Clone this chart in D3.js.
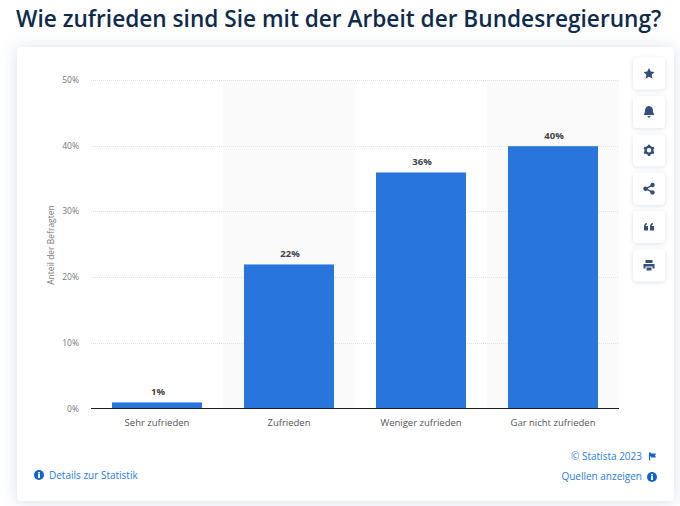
<!DOCTYPE html>
<html><head><meta charset="utf-8">
<script src="https://cdnjs.cloudflare.com/ajax/libs/d3/7.8.5/d3.min.js"></script>
<style>
html,body{margin:0;padding:0;background:#fff;overflow:hidden}
svg{display:block}
text{font-family:"Open Sans","Noto Sans",sans-serif}
</style></head><body><svg id="c" width="680" height="506"></svg>
<script>
const titleText = "Wie zufrieden sind Sie mit der Arbeit der Bundesregierung?";
const categories = ["Sehr zufrieden","Zufrieden","Weniger zufrieden","Gar nicht zufrieden"];
const values = [1,22,36,40];
const yTicks = [0,10,20,30,40,50];
const yLabel = "Anteil der Befragten";
const toolGlyphs = ["star","bell","gear","share","quote","print"];

const svg = d3.select("#c");
const defs = svg.append("defs");
const f = defs.append("filter").attr("id","sh").attr("x","-10%").attr("y","-10%").attr("width","120%").attr("height","120%");
f.append("feDropShadow").attr("dx",0).attr("dy",1).attr("stdDeviation",8).attr("flood-color","#7f93b8").attr("flood-opacity",0.3);
const f2 = defs.append("filter").attr("id","sh2").attr("x","-30%").attr("y","-30%").attr("width","160%").attr("height","160%");
f2.append("feDropShadow").attr("dx",0).attr("dy",1).attr("stdDeviation",2).attr("flood-color","#8a9ab5").attr("flood-opacity",0.3);

svg.append("text").attr("x",16).attr("y",27).attr("font-size",22.65).attr("font-weight",600).attr("fill","#0f2a4d").text(titleText);

svg.append("rect").attr("x",17).attr("y",47).attr("width",657).attr("height",454).attr("rx",4).attr("fill","#fff").attr("filter","url(#sh)");

const x = d3.scaleBand().domain(categories).range([91,619]).padding(0);
const y = d3.scaleLinear().domain([0,50]).range([408.5,80]);

const bandIdx = categories.filter((d,i)=>i%2===1);
svg.selectAll("rect.band").data(bandIdx).join("rect").attr("class","band")
  .attr("x",d=>x(d)).attr("y",y(50)).attr("width",x.bandwidth()).attr("height",y(0)-y(50)).attr("fill","#fafafa");

const g = svg.append("g");
g.selectAll("line.grid").data(yTicks.filter(d=>d>0)).join("line").attr("class","grid")
  .attr("x1",91).attr("x2",619).attr("y1",d=>Math.round(y(d))+.5).attr("y2",d=>Math.round(y(d))+.5)
  .attr("stroke","#e2e2e2").attr("stroke-dasharray","1 1");

const barW = 90;
svg.selectAll("rect.bar").data(values).join("rect").attr("class","bar")
  .attr("x",(d,i)=>x(categories[i])+x.bandwidth()/2-barW/2).attr("width",barW)
  .attr("y",d=>y(d)+.5).attr("height",d=>y(0)-y(d)-.5).attr("fill","#2875de");

svg.append("line").attr("x1",91).attr("x2",619).attr("y1",408.5).attr("y2",408.5).attr("stroke","#1f1f1f");

svg.selectAll("text.val").data(values).join("text").attr("class","val")
  .attr("x",(d,i)=>x(categories[i])+x.bandwidth()/2+1).attr("y",d=>y(d)-6.5)
  .attr("text-anchor","middle").attr("font-size",9.5).attr("font-weight",700).attr("fill","#444").text(d=>d+"%");

svg.selectAll("text.yt").data(yTicks).join("text").attr("class","yt")
  .attr("x",79).attr("y",d=>y(d)+3).attr("text-anchor","end").attr("font-size",8.5).attr("fill","#777").text(d=>d+"%");

svg.selectAll("text.xt").data(categories).join("text").attr("class","xt")
  .attr("x",d=>x(d)+x.bandwidth()/2).attr("y",425.5).attr("text-anchor","middle").attr("font-size",9.5).attr("fill","#555").text(d=>d);

svg.append("text").attr("transform","translate(54,245) rotate(-90)").attr("text-anchor","middle").attr("font-size",8.5).attr("fill","#777").text(yLabel);

const blue="#2a7be6";
function info(cx,cy){
  const i=svg.append("g").attr("transform",`translate(${cx},${cy})`);
  i.append("circle").attr("r",5).attr("fill","#0f62d6");
  i.append("rect").attr("x",-1).attr("y",-1).attr("width",2).attr("height",4).attr("fill","#fff");
  i.append("rect").attr("x",-1).attr("y",-3).attr("width",2).attr("height",1.5).attr("fill","#fff");
}
info(39,475);
svg.append("text").attr("x",49).attr("y",478.5).attr("font-size",10).attr("fill",blue).text("Details zur Statistik");
svg.append("text").attr("x",642).attr("y",460).attr("text-anchor","end").attr("font-size",10).attr("fill",blue).text("© Statista 2023");
svg.append("path").attr("d","M649 452.5h2v1h5l-1 2 1 2h-5v-1h-1v4h-1z").attr("fill","#0f62d6");
svg.append("text").attr("x",642).attr("y",480).attr("text-anchor","end").attr("font-size",10).attr("fill",blue).text("Quellen anzeigen");
info(652,477);

const ico="#34507a";
const paths={
  star:"M0 -5.5L1.7 -1.9L5.5 -1.4L2.7 1.3L3.4 5.2L0 3.3L-3.4 5.2L-2.7 1.3L-5.5 -1.4L-1.7 -1.9Z",
  bell:"M0 -6C-2.8 -6 -4 -3.8 -4 -1C-4 1 -5 2 -5.5 3H5.5C5 2 4 1 4 -1C4 -3.8 2.8 -6 0 -6ZM-1.5 4H1.5C1.5 5 .8 5.5 0 5.5C-.8 5.5 -1.5 5 -1.5 4Z",
  quote:"M-5 -.5C-5 -2.5 -4 -3.8 -2 -4V-2.6C-3 -2.4 -3.3 -1.9 -3.4 -1H-1V3.5H-5ZM1 -.5C1 -2.5 2 -3.8 4 -4V-2.6C3 -2.4 2.7 -1.9 2.6 -1H5V3.5H1Z",
  print:"M-3.5 -5.5H3.5V-2.5H-3.5ZM-5.5 -1.5H5.5V3H3.5V1H-3.5V3H-5.5ZM-2.5 2H2.5V5H-2.5Z"
};
const tool=svg.selectAll("g.tool").data(toolGlyphs).join("g").attr("class","tool")
  .attr("transform",(d,i)=>`translate(649,${73.5+i*38.4})`);
tool.append("rect").attr("x",-16).attr("y",-16).attr("width",32).attr("height",32).attr("rx",4).attr("fill","#fff").attr("filter","url(#sh2)");
tool.each(function(d){
  const t=d3.select(this);
  if(paths[d]) t.append("path").attr("d",paths[d]).attr("fill",ico);
  if(d==="gear"){
    t.append("circle").attr("r",3.4).attr("fill","none").attr("stroke",ico).attr("stroke-width",2.4);
    d3.range(6).forEach(k=>t.append("rect").attr("x",-1.2).attr("y",-5.6).attr("width",2.4).attr("height",2).attr("fill",ico).attr("transform",`rotate(${k*60})`));
  }
  if(d==="share"){
    t.append("path").attr("d","M3.5 -3.5L-3.5 0L3.5 3.5").attr("fill","none").attr("stroke",ico).attr("stroke-width",1.4);
    [[3.5,-3.7],[-3.5,0],[3.5,3.7]].forEach(p=>t.append("circle").attr("cx",p[0]).attr("cy",p[1]).attr("r",2.2).attr("fill",ico));
  }
});
</script></body></html>
